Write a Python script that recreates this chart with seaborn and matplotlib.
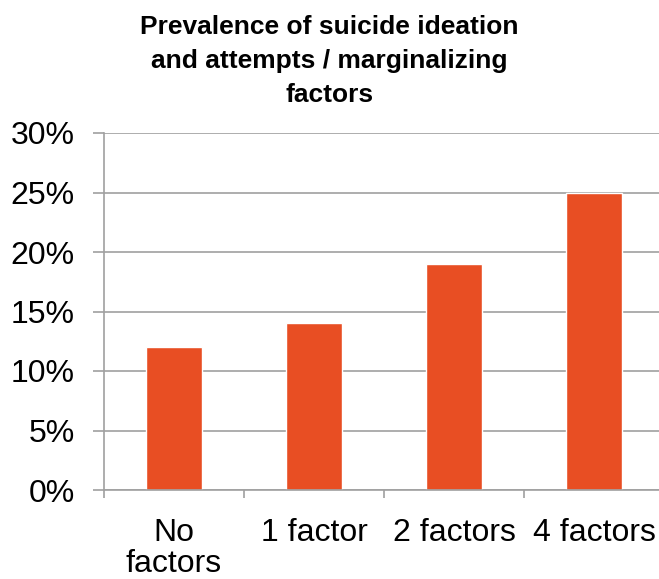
import matplotlib
matplotlib.use("Agg")
import matplotlib.pyplot as plt
import seaborn as sns
import pandas as pd
import numpy as np
from matplotlib.ticker import FuncFormatter

categories = ["No\nfactors", "1 factor", "2 factors", "4 factors"]
values = [12, 14, 19, 25]
yticks = [0, 5, 10, 15, 20, 25, 30]

sns.set_style("white")
plt.rcParams['font.family'] = ['Liberation Sans', 'DejaVu Sans']
plt.rcParams['text.color'] = 'black'
plt.rcParams['xtick.color'] = 'black'
plt.rcParams['ytick.color'] = 'black'

df = pd.DataFrame({"cat": categories, "val": values})

fig = plt.figure(figsize=(6.59, 5.79), dpi=100)
ax = fig.add_axes([104/659, 1-490/579, 560/659, (490-133)/579])
sns.barplot(data=df, x="cat", y="val", color="#E84E23", width=0.4, ax=ax, saturation=1)

grid_c = "#A0A0A0"
ax.set_ylim(0, 30)
ax.set_xlim(-0.5, 3.5)
ax.set_yticks(yticks)
ax.yaxis.set_major_formatter(FuncFormatter(lambda v, p: f"{int(v)}%"))
ax.yaxis.grid(True, color=grid_c, linewidth=1.2)
ax.set_axisbelow(True)
for s in ["top", "right"]:
    ax.spines[s].set_visible(False)
for s in ["left", "bottom"]:
    ax.spines[s].set_color(grid_c)
    ax.spines[s].set_linewidth(1.2)
ax.tick_params(axis="y", length=8, color=grid_c, width=1.2, labelsize=23, pad=13, left=True,
               labelcolor="black")
ax.tick_params(axis="x", which="major", length=0, labelsize=23, pad=20, labelcolor="black")
ax.set_xticks(np.arange(-0.5, 4.0, 1.0), minor=True)
ax.tick_params(axis="x", which="minor", length=6, color=grid_c, width=1.2, bottom=True)
ax.set_xlabel("")
ax.set_ylabel("")
for lbl in ax.get_xticklabels():
    lbl.set_linespacing(1.05)

fig.text(0.5, 1-61/579, "Prevalence of suicide ideation\nand attempts / marginalizing\nfactors",
         ha="center", va="center", fontsize=19, fontweight="bold", linespacing=1.5, color="black")

fig.savefig("out.png", dpi=100)
